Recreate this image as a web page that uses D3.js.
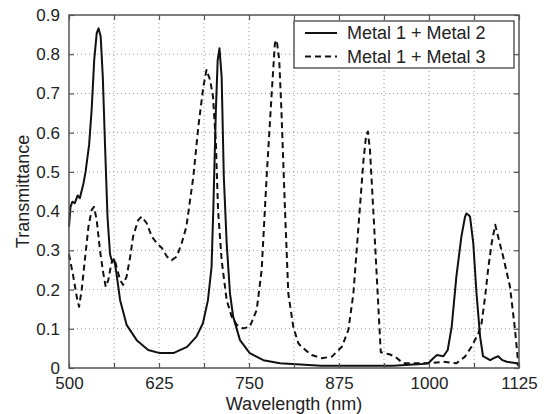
<!DOCTYPE html>
<html>
<head>
<meta charset="utf-8">
<script src="https://cdn.jsdelivr.net/npm/d3@7"></script>
<style>
  html, body { margin: 0; padding: 0; background: #fff; }
  svg { display: block; font-family: "Liberation Sans", Arial, Helvetica, sans-serif; }
</style>
</head>
<body>
<svg id="chart" width="552" height="414"></svg>
<script>
// ---- data ----
const seriesNames = ["Metal 1 + Metal 2", "Metal 1 + Metal 3"];

const wl12 = [500, 502, 504.6, 508, 512, 515, 520, 523, 528, 531.5, 535, 538.5, 541, 544, 547, 550, 553.5, 557, 560, 563, 566, 571, 580, 594, 610, 626, 645, 664, 677, 686, 693, 698, 700.4, 704, 706.5, 709, 712, 715, 719, 723.6, 728, 737.5, 751, 770, 793, 850, 950, 990, 999, 1006, 1011, 1020, 1026, 1031.5, 1038, 1045, 1050, 1052, 1055, 1057, 1061.5, 1066, 1071, 1075, 1085, 1090, 1096, 1102, 1108, 1122, 1125];
const t12  = [0.36, 0.41, 0.424, 0.42, 0.44, 0.433, 0.47, 0.50, 0.57, 0.66, 0.785, 0.854, 0.866, 0.845, 0.74, 0.57, 0.385, 0.29, 0.27, 0.275, 0.24, 0.173, 0.11, 0.071, 0.046, 0.038, 0.038, 0.054, 0.08, 0.114, 0.173, 0.258, 0.403, 0.658, 0.785, 0.815, 0.743, 0.488, 0.318, 0.19, 0.131, 0.071, 0.038, 0.02, 0.012, 0.006, 0.006, 0.01, 0.012, 0.025, 0.033, 0.03, 0.046, 0.105, 0.233, 0.335, 0.385, 0.394, 0.39, 0.386, 0.318, 0.19, 0.08, 0.03, 0.02, 0.025, 0.03, 0.02, 0.016, 0.012, 0.005];

const wl13 = [500, 506, 510.7, 514, 517.6, 522, 527, 531.5, 534.7, 538.5, 543, 547.6, 551, 554.6, 559, 563, 566, 571, 575, 580, 585, 589, 596, 601, 608, 615, 622, 629, 636, 642.6, 649.6, 656.5, 663, 672.7, 679.6, 686.6, 691, 696, 700, 704, 707, 712, 719, 726, 733, 742, 751, 760.7, 767.6, 774.5, 781.5, 786, 788.5, 792, 795, 800, 804.6, 811.5, 818.5, 823, 837, 851, 865, 879, 888, 895, 902, 909, 912.5, 915, 918, 922.6, 928.7, 933, 945, 953, 964, 1001, 1020, 1038, 1050, 1059, 1068.5, 1073, 1078, 1082, 1087, 1092, 1096, 1103, 1112.5, 1119, 1124, 1125];
const t13  = [0.29, 0.233, 0.182, 0.156, 0.199, 0.275, 0.36, 0.403, 0.411, 0.377, 0.30, 0.242, 0.207, 0.224, 0.268, 0.28, 0.258, 0.224, 0.212, 0.233, 0.284, 0.335, 0.377, 0.386, 0.369, 0.335, 0.318, 0.306, 0.284, 0.275, 0.284, 0.318, 0.36, 0.488, 0.615, 0.717, 0.76, 0.734, 0.692, 0.573, 0.403, 0.275, 0.173, 0.131, 0.11, 0.101, 0.105, 0.148, 0.25, 0.488, 0.70, 0.828, 0.836, 0.785, 0.658, 0.403, 0.19, 0.105, 0.063, 0.054, 0.033, 0.025, 0.029, 0.054, 0.097, 0.19, 0.36, 0.53, 0.59, 0.603, 0.556, 0.403, 0.19, 0.04, 0.035, 0.029, 0.012, 0.012, 0.016, 0.012, 0.029, 0.054, 0.088, 0.114, 0.182, 0.25, 0.318, 0.365, 0.335, 0.284, 0.207, 0.105, 0.012, 0.005];

const xTickValues = [500, 562.5, 625, 687.5, 750, 812.5, 875, 937.5, 1000, 1062.5, 1125];
const xTickLabels = ["500", "", "625", "", "750", "", "875", "", "1000", "", "1125"];
const yTickValues = [0, 0.1, 0.2, 0.3, 0.4, 0.5, 0.6, 0.7, 0.8, 0.9];
const yTickLabels = ["0", "0.1", "0.2", "0.3", "0.4", "0.5", "0.6", "0.7", "0.8", "0.9"];

// ---- layout ----
const W = 552, H = 414;
const m = { left: 69, right: 33, top: 15, bottom: 46 };
const iw = W - m.left - m.right, ih = H - m.top - m.bottom;

const svg = d3.select("#chart");
const g = svg.append("g").attr("transform", `translate(${m.left},${m.top})`);

const x = d3.scaleLinear().domain([500, 1125]).range([0, iw]);
const y = d3.scaleLinear().domain([0, 0.9]).range([ih, 0]);

// grid
const gridColor = "#9a9a9a";
g.append("g").selectAll("line").data(xTickValues.slice(1, -1)).join("line")
  .attr("x1", d => x(d)).attr("x2", d => x(d)).attr("y1", 0).attr("y2", ih)
  .attr("stroke", gridColor).attr("stroke-width", 1).attr("stroke-dasharray", "1,3");
g.append("g").selectAll("line").data(yTickValues.slice(1, -1)).join("line")
  .attr("y1", d => y(d)).attr("y2", d => y(d)).attr("x1", 0).attr("x2", iw)
  .attr("stroke", gridColor).attr("stroke-width", 1).attr("stroke-dasharray", "1,3");

// lines
const line = d3.line().x(d => x(d[0])).y(d => y(d[1]));
const d12 = wl12.map((w, i) => [w, t12[i]]);
const d13 = wl13.map((w, i) => [w, t13[i]]);

g.append("path").datum(d13).attr("d", line).attr("fill", "none")
  .attr("stroke", "#111").attr("stroke-width", 2).attr("stroke-dasharray", "6,4")
  .attr("stroke-linejoin", "round");
g.append("path").datum(d12).attr("d", line).attr("fill", "none")
  .attr("stroke", "#111").attr("stroke-width", 2).attr("stroke-linejoin", "round");

// axes (ticks inward, on all four sides)
const axColor = "#555";
const fontSize = 17;
const xb = d3.axisBottom(x).tickValues(xTickValues).tickSizeInner(-5).tickSizeOuter(0)
  .tickPadding(9).tickFormat((d, i) => xTickLabels[i]);
const xt = d3.axisTop(x).tickValues(xTickValues).tickSizeInner(-5).tickSizeOuter(0).tickFormat("");
const yl = d3.axisLeft(y).tickValues(yTickValues).tickSizeInner(-5).tickSizeOuter(0)
  .tickPadding(9).tickFormat((d, i) => yTickLabels[i]);
const yr = d3.axisRight(y).tickValues(yTickValues).tickSizeInner(-5).tickSizeOuter(0).tickFormat("");

function styleAxis(sel) {
  sel.select(".domain").remove();
  sel.selectAll("line").attr("stroke", axColor).attr("stroke-width", 1.2);
  sel.selectAll("text").attr("fill", "#222").style("font-size", fontSize + "px")
    .style("font-family", '"Liberation Sans", Arial, sans-serif');
}
g.append("g").attr("transform", `translate(0,${ih})`).call(xb).call(styleAxis);
g.append("g").call(xt).call(styleAxis);
g.append("g").call(yl).call(styleAxis);
g.append("g").attr("transform", `translate(${iw},0)`).call(yr).call(styleAxis);

// frame
g.append("rect").attr("x", 0).attr("y", 0).attr("width", iw).attr("height", ih)
  .attr("fill", "none").attr("stroke", axColor).attr("stroke-width", 1.5);

// axis titles
svg.append("text").attr("x", m.left + iw / 2).attr("y", 410)
  .attr("text-anchor", "middle").attr("fill", "#222").style("font-size", "18px")
  .text("Wavelength (nm)");
svg.append("text").attr("transform", `translate(29,${m.top + ih / 2}) rotate(-90)`)
  .attr("text-anchor", "middle").attr("fill", "#222").style("font-size", "18px")
  .text("Transmittance");

// legend
const lg = svg.append("g");
lg.append("rect").attr("x", 294).attr("y", 21).attr("width", 220).attr("height", 47)
  .attr("fill", "#fff").attr("stroke", "#333").attr("stroke-width", 1.2);
const legRows = [{ y: 33, dash: null }, { y: 56.5, dash: "6,4" }];
legRows.forEach((r, i) => {
  lg.append("line").attr("x1", 305).attr("x2", 337).attr("y1", r.y).attr("y2", r.y)
    .attr("stroke", "#111").attr("stroke-width", 2).attr("stroke-dasharray", r.dash);
  lg.append("text").attr("x", 347).attr("y", r.y + 6).attr("fill", "#222")
    .style("font-size", "18px").text(seriesNames[i]);
});
</script>
</body>
</html>
